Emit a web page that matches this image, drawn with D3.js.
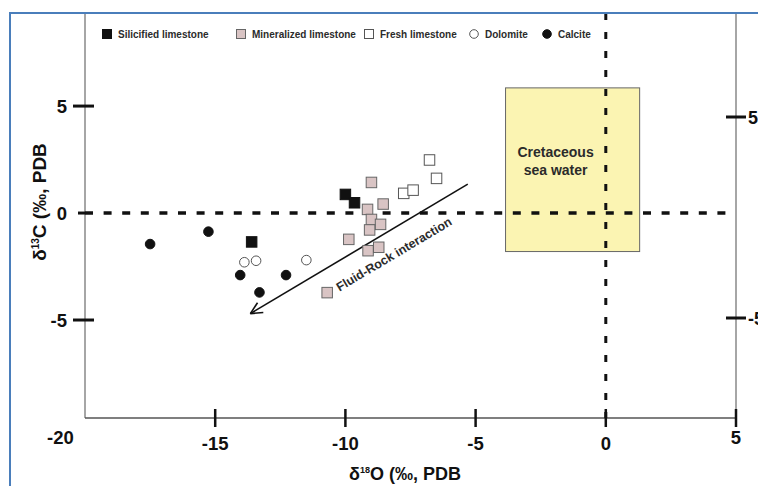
<!DOCTYPE html>
<meta charset="utf-8">
<style>
    body { margin: 0; background: #fff; }
    svg { font-family: "Liberation Sans", Arial, sans-serif; font-weight: bold; }
    .lbl { fill: #2b2b2b; }
</style>
<body>
<script src="https://cdn.jsdelivr.net/npm/d3@7"></script>
<script>
    // data (d18O, d13C)
    const silicified = [[-13.6, -1.35], [-10.0, 0.87], [-9.65, 0.48]];
    const mineralized = [[-9.0, 1.43], [-8.55, 0.42], [-9.15, 0.17], [-9.0, -0.3], [-8.65, -0.53],
                         [-9.07, -0.79], [-9.87, -1.23], [-9.13, -1.76], [-8.72, -1.6], [-10.7, -3.72]];
    const fresh = [[-6.77, 2.48], [-6.5, 1.62], [-7.76, 0.92], [-7.4, 1.07]];
    const dolomite = [[-13.88, -2.3], [-13.43, -2.23], [-11.5, -2.2]];
    const calcite = [[-17.5, -1.45], [-15.26, -0.87], [-14.04, -2.9], [-13.3, -3.71], [-12.28, -2.9]];

    const xTicks = [-20, -15, -10, -5, 0, 5];
    const yTicks = [5, 0, -5];
    const seaWater = {x0: -3.85, x1: 1.3, y0: -1.8, y1: 5.85};
    const arrowFrom = [-5.3, 1.35], arrowTo = [-13.65, -4.7];

    const W = 758, H = 486;
    const svg = d3.select('body').append('svg').attr('width', W).attr('height', H);

    const x = d3.scaleLinear().domain([-20, 5]).range([85, 736]);
    const y = d3.scaleLinear().domain([-9.58, 9.35]).range([418, 13]);
    // right hand axis is slightly off in the original
    const yR = d3.scaleLinear().domain([-5, 5]).range([318, 117]);

    // frame
    svg.append('line').attr('x1', x(-20)).attr('x2', x(-20)).attr('y1', 13).attr('y2', 418)
        .attr('stroke', '#888').attr('stroke-width', 1.5);
    svg.append('line').attr('x1', x(5)).attr('x2', x(5)).attr('y1', 13).attr('y2', 418)
        .attr('stroke', '#888').attr('stroke-width', 1.5);
    svg.append('line').attr('x1', x(-20)).attr('x2', x(5)).attr('y1', 418).attr('y2', 418)
        .attr('stroke', '#555').attr('stroke-width', 1.5);

    // sea water box
    svg.append('rect')
        .attr('x', x(seaWater.x0)).attr('y', y(seaWater.y1))
        .attr('width', x(seaWater.x1) - x(seaWater.x0))
        .attr('height', y(seaWater.y0) - y(seaWater.y1))
        .attr('fill', '#fbf4b2').attr('stroke', '#666').attr('stroke-width', 1);
    const cx = (x(seaWater.x0) + x(seaWater.x1)) / 2 - 17;
    svg.append('text').attr('class', 'lbl').attr('x', cx).attr('y', y(2.6))
        .attr('text-anchor', 'middle').style('font-size', '14px').text('Cretaceous');
    svg.append('text').attr('class', 'lbl').attr('x', cx).attr('y', y(1.8))
        .attr('text-anchor', 'middle').style('font-size', '14px').text('sea water');

    // zero lines
    svg.append('line').attr('x1', x(-20)).attr('x2', x(5)).attr('y1', y(0)).attr('y2', y(0))
        .attr('stroke', '#111').attr('stroke-width', 3.5).attr('stroke-dasharray', '8,10.6');
    svg.append('line').attr('x1', x(0)).attr('x2', x(0)).attr('y1', 13).attr('y2', 418)
        .attr('stroke', '#111').attr('stroke-width', 3).attr('stroke-dasharray', '7,12');

    // bottom ticks
    svg.selectAll('.xt').data(xTicks.filter(d => d > -20)).enter().append('line')
        .attr('x1', d => x(d)).attr('x2', d => x(d)).attr('y1', 409).attr('y2', 427)
        .attr('stroke', '#111').attr('stroke-width', 2.5);
    svg.selectAll('.xl').data(xTicks).enter().append('text')
        .attr('x', d => d === -20 ? x(d) - 38 : x(d))
        .attr('y', d => (d === -20 || d === 5) ? 444 : 450)
        .attr('text-anchor', d => d === -20 ? 'start' : 'middle')
        .style('font-size', '18.5px').attr('fill', '#111')
        .text(d => d);

    // left ticks
    svg.selectAll('.yt').data(yTicks).enter().append('line')
        .attr('x1', d => d === 0 ? 78 : 73).attr('x2', d => d === 0 ? x(-20) : 94)
        .attr('y1', d => y(d)).attr('y2', d => y(d))
        .attr('stroke', '#111').attr('stroke-width', 3);
    svg.selectAll('.yl').data(yTicks).enter().append('text')
        .attr('x', 67).attr('y', d => y(d) + 7)
        .attr('text-anchor', 'end').style('font-size', '18.5px').attr('fill', '#111')
        .text(d => d);

    // right ticks (cut at the page edge, as in the original)
    svg.selectAll('.rt').data([5, -5]).enter().append('line')
        .attr('x1', 726).attr('x2', 746).attr('y1', d => yR(d)).attr('y2', d => yR(d))
        .attr('stroke', '#111').attr('stroke-width', 3);
    svg.selectAll('.rl').data([5, -5]).enter().append('text')
        .attr('x', 748).attr('y', d => yR(d) + 7)
        .style('font-size', '18px').attr('fill', '#111')
        .text(d => d === 5 ? '5' : '-5');

    // axis titles
    const xt = svg.append('text').attr('x', 405).attr('y', 480).attr('text-anchor', 'middle')
        .style('font-size', '18px').attr('fill', '#111');
    xt.append('tspan').text('δ');
    xt.append('tspan').attr('dy', -7).style('font-size', '9px').text('18');
    xt.append('tspan').attr('dy', 7).text('O (‰, PDB');

    const yt = svg.append('text').attr('transform', 'translate(46,202) rotate(-90)')
        .attr('text-anchor', 'middle').style('font-size', '19px').attr('fill', '#111');
    yt.append('tspan').text('δ');
    yt.append('tspan').attr('dy', -7).style('font-size', '10px').text('13');
    yt.append('tspan').attr('dy', 7).text('C (‰, PDB');

    // fluid-rock arrow
    const ax0 = x(arrowFrom[0]), ay0 = y(arrowFrom[1]), ax1 = x(arrowTo[0]), ay1 = y(arrowTo[1]);
    svg.append('line').attr('x1', ax0).attr('y1', ay0).attr('x2', ax1).attr('y2', ay1)
        .attr('stroke', '#111').attr('stroke-width', 1.6);
    const ang = Math.atan2(ay0 - ay1, ax0 - ax1);
    [0.45, -0.45].forEach(o => {
        svg.append('line').attr('x1', ax1).attr('y1', ay1)
            .attr('x2', ax1 + 13 * Math.cos(ang + o)).attr('y2', ay1 + 13 * Math.sin(ang + o))
            .attr('stroke', '#111').attr('stroke-width', 1.6);
    });
    const deg = ang * 180 / Math.PI;
    svg.append('text').attr('class', 'lbl')
        .attr('transform', `translate(${x(-8.05)},${y(-2.1)}) rotate(${deg})`)
        .attr('text-anchor', 'middle').style('font-size', '12.5px')
        .text('Fluid-Rock interaction');

    // points
    const sq = 10.5;
    function squares(data, fill, stroke) {
        svg.append('g').selectAll('rect').data(data).enter().append('rect')
            .attr('x', d => x(d[0]) - sq / 2).attr('y', d => y(d[1]) - sq / 2)
            .attr('width', sq).attr('height', sq)
            .attr('fill', fill).attr('stroke', stroke).attr('stroke-width', 1);
    }
    function circles(data, fill, stroke) {
        svg.append('g').selectAll('circle').data(data).enter().append('circle')
            .attr('cx', d => x(d[0])).attr('cy', d => y(d[1])).attr('r', 4.8)
            .attr('fill', fill).attr('stroke', stroke).attr('stroke-width', 1);
    }
    squares(mineralized, '#d9c4c4', '#666');
    squares(fresh, '#fff', '#555');
    squares(silicified, '#111', '#111');
    circles(dolomite, '#fff', '#555');
    circles(calcite, '#111', '#111');

    // legend
    const legend = [
        {t: 'Silicified limestone', kind: 'sq', fill: '#111', stroke: '#111', mx: 107},
        {t: 'Mineralized limestone', kind: 'sq', fill: '#d9c4c4', stroke: '#666', mx: 241},
        {t: 'Fresh limestone', kind: 'sq', fill: '#fff', stroke: '#555', mx: 369},
        {t: 'Dolomite', kind: 'c', fill: '#fff', stroke: '#555', mx: 474},
        {t: 'Calcite', kind: 'c', fill: '#111', stroke: '#111', mx: 547}
    ];
    const lg = svg.append('g').selectAll('g').data(legend).enter().append('g')
        .attr('transform', d => `translate(${d.mx},34)`);
    lg.filter(d => d.kind === 'sq').append('rect')
        .attr('x', -4.5).attr('y', -4.5).attr('width', 9).attr('height', 9)
        .attr('fill', d => d.fill).attr('stroke', d => d.stroke);
    lg.filter(d => d.kind === 'c').append('circle')
        .attr('r', 4.3).attr('fill', d => d.fill).attr('stroke', d => d.stroke);
    lg.append('text').attr('class', 'lbl').attr('x', 11).attr('y', 3.5)
        .style('font-size', '10px').text(d => d.t);

    // blue page frame
    svg.append('line').attr('x1', 10).attr('x2', W).attr('y1', 13).attr('y2', 13)
        .attr('stroke', '#4a7ebb').attr('stroke-width', 2);
    svg.append('line').attr('x1', 10).attr('x2', 10).attr('y1', 12).attr('y2', H)
        .attr('stroke', '#4a7ebb').attr('stroke-width', 2);
</script>
</body>
